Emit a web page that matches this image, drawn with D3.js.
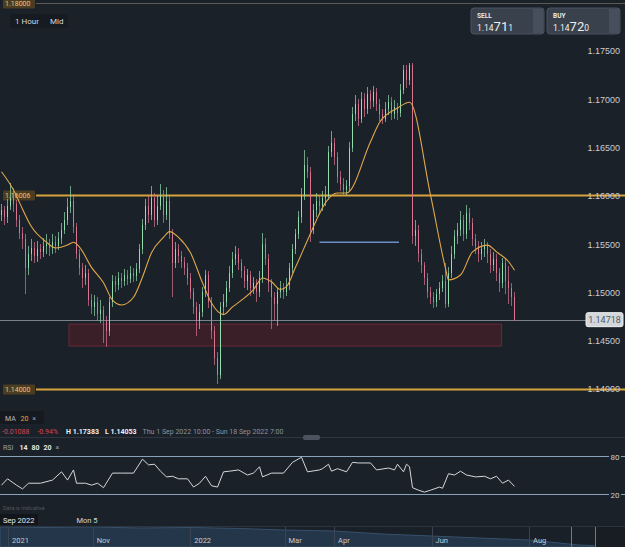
<!DOCTYPE html>
<html>
<head>
<meta charset="utf-8">
<script src="https://cdn.jsdelivr.net/npm/d3@7"></script>
<style>
  body { margin: 0; background: #1b2129; }
  svg { display: block; font-family: Roboto, "Liberation Sans", Arial, sans-serif; }
</style>
</head>
<body>
<div id="chart"></div>
<script>
// hourly candles, Thu 1 Sep 2022 10:00 - Sun 18 Sep 2022 7:00
var firstOpen = 1.15806;
var closes = [
  1.1585, 1.1578, 1.1590, 1.1598, 1.1592, 1.1575, 1.1562, 1.1555, 1.1525, 1.1540,
  1.1546, 1.1538, 1.1545, 1.1542, 1.1548, 1.1550, 1.1546, 1.1552, 1.1548, 1.1556,
  1.1565, 1.1575, 1.1588, 1.1595, 1.1568, 1.1540, 1.1525, 1.1515, 1.1520, 1.1492,
  1.1485, 1.1490, 1.1478, 1.1482, 1.1470, 1.1460, 1.1490, 1.1512, 1.1508, 1.1515,
  1.1512, 1.1518, 1.1514, 1.1520, 1.1517, 1.1524, 1.1545, 1.1570, 1.1590, 1.1580,
  1.1598, 1.1575, 1.1590, 1.1600, 1.1580, 1.1595, 1.1560, 1.1530, 1.1545, 1.1538,
  1.1532, 1.1525, 1.1515, 1.1500, 1.1485, 1.1470, 1.1480, 1.1500, 1.1518, 1.1490,
  1.1460, 1.1432, 1.1415, 1.1485, 1.1490, 1.1505, 1.1520, 1.1535, 1.1540, 1.1530,
  1.1522, 1.1512, 1.1518, 1.1505, 1.1510, 1.1500, 1.1515, 1.1550, 1.1535, 1.1510,
  1.1495, 1.1488, 1.1500, 1.1505, 1.1500, 1.1508, 1.1525, 1.1545, 1.1560, 1.1578,
  1.1600, 1.1632, 1.1625, 1.1565, 1.1585, 1.1595, 1.1590, 1.1598, 1.1600, 1.1645,
  1.1655, 1.1640, 1.1620, 1.1612, 1.1606, 1.1610, 1.1650, 1.1685, 1.1695, 1.1680,
  1.1700, 1.1690, 1.1705, 1.1698, 1.1708, 1.1695, 1.1685, 1.1680, 1.1690, 1.1697,
  1.1685, 1.1692, 1.1686, 1.1710, 1.1730, 1.1720, 1.1735, 1.1558, 1.1565, 1.1540,
  1.1528, 1.1515, 1.1500, 1.1495, 1.1490, 1.1498, 1.1505, 1.1512, 1.1488, 1.1520,
  1.1540, 1.1558, 1.1565, 1.1575, 1.1560, 1.1582, 1.1572, 1.1555, 1.1548, 1.1540,
  1.1545, 1.1548, 1.1540, 1.1528, 1.1535, 1.1520, 1.1510, 1.1530, 1.1512, 1.1505,
  1.1495, 1.14718
];
var highs = [
  1.1592, 1.1590, 1.1597, 1.1613, 1.1608, 1.1596, 1.1580, 1.1568, 1.1560, 1.1548,
  1.1555, 1.1552, 1.1553, 1.1550, 1.1556, 1.1560, 1.1555, 1.1561, 1.1558, 1.1563,
  1.1572, 1.1583, 1.1598, 1.1610, 1.1602, 1.1572, 1.1545, 1.1530, 1.1528, 1.1524,
  1.1498, 1.1497, 1.1495, 1.1492, 1.1486, 1.1476, 1.1495, 1.1518, 1.1517, 1.1521,
  1.1520, 1.1524, 1.1523, 1.1527, 1.1525, 1.1530, 1.1550, 1.1576, 1.1597, 1.1600,
  1.1610, 1.1603, 1.1600, 1.1612, 1.1606, 1.1609, 1.1600, 1.1566, 1.1552, 1.1550,
  1.1543, 1.1537, 1.1530, 1.1520, 1.1505, 1.1490, 1.1488, 1.1506, 1.1523, 1.1522,
  1.1495, 1.1465, 1.1438, 1.1490, 1.1498, 1.1512, 1.1527, 1.1542, 1.1548, 1.1546,
  1.1535, 1.1527, 1.1524, 1.1522, 1.1516, 1.1514, 1.1522, 1.1562, 1.1556, 1.1540,
  1.1514, 1.1500, 1.1505, 1.1512, 1.1510, 1.1515, 1.1530, 1.1550, 1.1566, 1.1584,
  1.1608, 1.1647, 1.1640, 1.1630, 1.1592, 1.1603, 1.1600, 1.1605, 1.1610, 1.1652,
  1.1667, 1.1660, 1.1645, 1.1626, 1.1618, 1.1616, 1.1656, 1.1692, 1.1704, 1.1700,
  1.1708, 1.1706, 1.1713, 1.1710, 1.1714, 1.1712, 1.1700, 1.1690, 1.1697, 1.1704,
  1.1702, 1.1699, 1.1696, 1.1716, 1.1736, 1.1735, 1.1738, 1.1738, 1.1575, 1.1570,
  1.1545, 1.1532, 1.1520, 1.1506, 1.1500, 1.1504, 1.1511, 1.1518, 1.1530, 1.1526,
  1.1548, 1.1565, 1.1572, 1.1584, 1.1580, 1.1591, 1.1587, 1.1577, 1.1560, 1.1553,
  1.1552, 1.1555, 1.1552, 1.1545, 1.1542, 1.1540, 1.1525, 1.1536, 1.1535, 1.1527,
  1.1510, 1.1500
];
var lows = [
  1.1574, 1.1570, 1.1572, 1.1585, 1.1583, 1.1568, 1.1555, 1.1545, 1.1498, 1.1518,
  1.1533, 1.1530, 1.1532, 1.1535, 1.1537, 1.1540, 1.1538, 1.1540, 1.1541, 1.1544,
  1.1550, 1.1560, 1.1570, 1.1582, 1.1562, 1.1535, 1.1518, 1.1505, 1.1508, 1.1486,
  1.1478, 1.1476, 1.1470, 1.1468, 1.1448, 1.1443, 1.1455, 1.1485, 1.1500, 1.1503,
  1.1505, 1.1507, 1.1508, 1.1510, 1.1511, 1.1512, 1.1520, 1.1540, 1.1565, 1.1572,
  1.1575, 1.1568, 1.1570, 1.1585, 1.1572, 1.1575, 1.1555, 1.1495, 1.1525, 1.1530,
  1.1525, 1.1518, 1.1508, 1.1493, 1.1478, 1.1455, 1.1462, 1.1475, 1.1495, 1.1484,
  1.1452, 1.1425, 1.1405, 1.1410, 1.1478, 1.1485, 1.1500, 1.1515, 1.1528, 1.1523,
  1.1515, 1.1505, 1.1503, 1.1496, 1.1498, 1.1490, 1.1495, 1.1510, 1.1528, 1.1500,
  1.1462, 1.1470, 1.1465, 1.1494, 1.1493, 1.1496, 1.1503, 1.1520, 1.1540, 1.1555,
  1.1572, 1.1596, 1.1618, 1.1552, 1.1560, 1.1578, 1.1580, 1.1584, 1.1590, 1.1596,
  1.1640, 1.1632, 1.1613, 1.1605, 1.1600, 1.1601, 1.1605, 1.1645, 1.1678, 1.1672,
  1.1675, 1.1682, 1.1685, 1.1690, 1.1692, 1.1688, 1.1678, 1.1674, 1.1676, 1.1684,
  1.1679, 1.1680, 1.1679, 1.1682, 1.1705, 1.1712, 1.1715, 1.1550, 1.1548, 1.1532,
  1.1520, 1.1508, 1.1494, 1.1488, 1.1484, 1.1485, 1.1492, 1.1500, 1.1484, 1.1485,
  1.1515, 1.1535, 1.1550, 1.1558, 1.1553, 1.1555, 1.1565, 1.1548, 1.1540, 1.1532,
  1.1534, 1.1537, 1.1530, 1.1520, 1.1522, 1.1512, 1.1500, 1.1505, 1.1498, 1.1488,
  1.1486, 1.1470
];

// MA 20 as drawn (candle index, value)
var maIdx = [0, 4, 6, 10, 15, 18, 22, 24, 26, 30, 34, 37, 40, 44, 47, 50, 54, 56, 59, 63,
  67, 70, 74, 77, 80, 84, 87, 90, 93, 95, 98, 102, 105, 108, 112, 115, 123, 126, 132, 136,
  143, 148, 149, 153, 157, 162, 165, 169, 171];
var maVal = [1.1625, 1.1606, 1.1593, 1.1568, 1.1552, 1.1546, 1.1549, 1.1552, 1.1547, 1.1526,
  1.1510, 1.1492, 1.1487, 1.1495, 1.1516, 1.1541, 1.1557, 1.1563, 1.1557, 1.1541,
  1.1510, 1.1489, 1.1477, 1.1485, 1.1492, 1.1503, 1.1515, 1.1511, 1.1503, 1.1506,
  1.1526, 1.1554, 1.1575, 1.1593, 1.1603, 1.1603, 1.1656, 1.1676, 1.1691, 1.1697,
  1.1601, 1.1525, 1.1513, 1.1518, 1.1542, 1.1549, 1.1542, 1.1532, 1.1523];

// RSI 14 (candle index, value)
var rsiIdx = [0, 2, 5, 7, 9, 13, 17, 20, 22, 24, 25, 28, 30, 32, 34, 37, 40, 44, 47, 49,
  51, 53, 55, 57, 59, 62, 64, 66, 68, 70, 72, 74, 76, 79, 82, 84, 86, 87, 90, 94,
  97, 100, 102, 106, 107, 109, 110, 112, 115, 117, 119, 123, 125, 129, 131, 132, 134, 135, 136, 137,
  139, 141, 143, 146, 147, 149, 151, 153, 155, 158, 161, 163, 165, 167, 169, 171];
var rsiVal = [34, 44, 34, 28, 37, 37, 42, 55, 42, 58, 37, 37, 34, 37, 30, 53, 53, 53, 75, 66,
  67, 56, 47, 48, 44, 44, 31, 37, 48, 33, 31, 55, 56, 58, 50, 53, 63, 47, 53, 53,
  70, 78, 55, 58, 60, 67, 56, 60, 55, 70, 69, 69, 58, 61, 58, 67, 55, 67, 63, 30,
  26, 23, 26, 31, 29, 52, 50, 56, 50, 47, 48, 44, 48, 37, 42, 32];

// horizontal levels and zone
var levels = [1.18, 1.16006, 1.14];
var levelLabels = ["1.18000", "1.16006", "1.14000"];
var priceTicks = [1.14, 1.145, 1.15, 1.155, 1.16, 1.165, 1.17, 1.175];
var lastPrice = 1.14718;
var zoneTop = 1.14672, zoneBottom = 1.14445, zoneFrom = 22.5, zoneTo = 166.7;
var blueLevel = 1.1552, blueFrom = 106, blueTo = 132.5;

// navigator (full history)
var navDates = ["2021-09-04", "2021-10-01", "2021-11-01", "2021-12-01", "2022-01-01", "2022-02-01",
  "2022-03-01", "2022-04-01", "2022-05-01", "2022-06-01", "2022-07-01", "2022-08-01",
  "2022-08-20", "2022-09-01", "2022-09-18"];
var navValues = [1.19, 1.185, 1.19, 1.18, 1.185, 1.175, 1.16, 1.15, 1.12, 1.10, 1.08, 1.06, 1.03, 1.01, 1.00];
var navTickDates = ["2021-11-01", "2022-01-01", "2022-03-01", "2022-04-01", "2022-06-01", "2022-08-01"];
var navTickLabels = ["Nov", "2022", "Mar", "Apr", "Jun", "Aug"];
var navWindow = ["2022-08-27", "2022-09-11"];

var W = 625, H = 547;
var bg = "#1b2129", up = "#93dcad", down = "#da7590", gold = "#d7a33c";

var svg = d3.select("#chart").append("svg").attr("width", W).attr("height", H);
svg.append("rect").attr("width", W).attr("height", H).attr("fill", bg);

var n = closes.length;
var x = d3.scaleBand().domain(d3.range(n)).range([0, n * 3]).paddingInner(0.34).paddingOuter(0.17);
var xi = function (i) { return x.step() * i + x.step() / 2; };
var y = d3.scaleLinear().domain([1.14, 1.175]).range([389, 51]);

var candles = closes.map(function (c, i) {
  return { i: i, o: i === 0 ? firstOpen : closes[i - 1], c: c, h: highs[i], l: lows[i] };
});

// zone
svg.append("rect")
  .attr("x", xi(zoneFrom)).attr("width", xi(zoneTo) - xi(zoneFrom))
  .attr("y", y(zoneTop)).attr("height", y(zoneBottom) - y(zoneTop))
  .attr("fill", "#3a1f29").attr("stroke", "#6a2837").attr("stroke-width", 1);

// right price axis
var axis = svg.append("g").attr("transform", "translate(620,0)")
  .call(d3.axisLeft(y).tickValues(priceTicks).tickFormat(d3.format(".5f")).tickSize(0).tickPadding(0));
axis.select(".domain").remove();
axis.selectAll("text").attr("fill", "#c9cdd2").attr("font-size", 9);

// level lines
levels.forEach(function (v, k) {
  var yy = Math.round(y(v)) + 0.5;
  svg.append("line").attr("x1", 36).attr("x2", W).attr("y1", yy).attr("y2", yy)
    .attr("stroke", k === 0 ? "#5d5a52" : gold).attr("stroke-width", k === 0 ? 1 : 1.8);
  svg.append("rect").attr("x", 3).attr("y", yy - 5).attr("width", 32).attr("height", 10)
    .attr("fill", "#4a3d22").attr("rx", 1);
  svg.append("text").attr("x", 5).attr("y", yy + 2.5).text(levelLabels[k])
    .attr("fill", "#e6c47c").attr("font-size", 7);
});
axis.raise();

// blue level
svg.append("line").attr("x1", xi(blueFrom)).attr("x2", xi(blueTo))
  .attr("y1", y(blueLevel)).attr("y2", y(blueLevel))
  .attr("stroke", "#6a8fc4").attr("stroke-width", 1.6);

// last price line
svg.append("line").attr("x1", 0).attr("x2", 586).attr("y1", Math.round(y(lastPrice)) + 0.5)
  .attr("y2", Math.round(y(lastPrice)) + 0.5).attr("stroke", "#7c828a").attr("stroke-width", 1);
svg.append("rect").attr("x", 586).attr("y", y(lastPrice) - 7).attr("width", 37).attr("height", 14)
  .attr("rx", 2).attr("fill", "#d3d7dc").attr("stroke", "#eef0f2");
svg.append("text").attr("x", 604.5).attr("y", y(lastPrice) + 3).attr("text-anchor", "middle")
  .attr("font-size", 9).attr("fill", "#505761").text(d3.format(".5f")(lastPrice));

// candles
var cg = svg.append("g").attr("shape-rendering", "crispEdges");
cg.selectAll("line").data(candles).enter().append("line")
  .attr("x1", function (d) { return Math.floor(xi(d.i)) + 0.5; })
  .attr("x2", function (d) { return Math.floor(xi(d.i)) + 0.5; })
  .attr("y1", function (d) { return y(d.h); })
  .attr("y2", function (d) { return y(d.l); })
  .attr("stroke", function (d) { return d.c >= d.o ? up : down; })
  .attr("stroke-opacity", 0.7);
cg.selectAll("rect").data(candles).enter().append("rect")
  .attr("x", function (d) { return x(d.i); })
  .attr("width", x.bandwidth())
  .attr("y", function (d) { return y(Math.max(d.o, d.c)); })
  .attr("height", function (d) { return Math.max(1, Math.abs(y(d.o) - y(d.c))); })
  .attr("fill", function (d) { return d.c >= d.o ? up : down; });

// MA line
svg.append("path").datum(maIdx)
  .attr("fill", "none").attr("stroke", "#e2a84a").attr("stroke-width", 1.1)
  .attr("d", d3.line().x(function (d) { return xi(d); })
    .y(function (d, k) { return y(maVal[k]); }).curve(d3.curveMonotoneX));

// top-left controls
svg.append("rect").attr("x", 10).attr("y", 14).attr("width", 58).attr("height", 14).attr("rx", 3).attr("fill", "#161b22");
svg.append("text").attr("x", 15).attr("y", 24).attr("font-size", 8).attr("fill", "#d5d8dc").text("1 Hour");
svg.append("text").attr("x", 50).attr("y", 24).attr("font-size", 8).attr("fill", "#d5d8dc").text("Mid");

// sell / buy boxes
[["SELL", 471, ["1.14", "71", "1"]], ["BUY", 547, ["1.14", "72", "0"]]].forEach(function (b) {
  svg.append("rect").attr("x", b[1]).attr("y", 8).attr("width", 73).attr("height", 26).attr("rx", 3).attr("fill", "#39414d").attr("stroke", "#4a5361");
  svg.append("rect").attr("x", b[1] + 62).attr("y", 9).attr("width", 10).attr("height", 24).attr("fill", "#464f5c");
  svg.append("text").attr("x", b[1] + 6).attr("y", 18).attr("font-size", 6.5).attr("font-weight", "bold").attr("fill", "#e8eaec").text(b[0]);
  var t = svg.append("text").attr("x", b[1] + 6).attr("y", 31).attr("fill", "#eef0f2");
  t.append("tspan").attr("font-size", 8.5).text(b[2][0]);
  t.append("tspan").attr("font-size", 13).text(b[2][1]);
  t.append("tspan").attr("font-size", 8.5).text(b[2][2]);
});

// indicator legend area
svg.append("rect").attr("x", 0).attr("y", 411).attr("width", 44).attr("height", 13).attr("fill", "#151a21");
var ma = svg.append("text").attr("x", 5).attr("y", 420.5).attr("font-size", 7);
ma.append("tspan").attr("fill", "#b6bcc4").text("MA ");
ma.append("tspan").attr("fill", "#e3a23c").attr("dx", 3).text("20");
ma.append("tspan").attr("fill", "#9aa1aa").attr("dx", 4).text("\u00d7");

var info = svg.append("text").attr("x", 2).attr("y", 433.5).attr("font-size", 7);
info.append("tspan").attr("fill", "#d2475a").text("-0.01088");
info.append("tspan").attr("fill", "#d2475a").attr("dx", 8).text("-0.94%");
info.append("tspan").attr("fill", "#eef0f2").attr("font-weight", "bold").attr("dx", 8).text("H 1.17383");
info.append("tspan").attr("fill", "#eef0f2").attr("font-weight", "bold").attr("dx", 6).text("L 1.14053");
info.append("tspan").attr("fill", "#8c939c").attr("dx", 6).text("Thu 1 Sep 2022 10:00 - Sun 18 Sep 2022 7:00");

svg.append("line").attr("x1", 0).attr("x2", W).attr("y1", 437.5).attr("y2", 437.5).attr("stroke", "#2f3641");
svg.append("rect").attr("x", 303).attr("y", 435).attr("width", 17).attr("height", 5).attr("rx", 2).attr("fill", "#4b535e");

var rl = svg.append("text").attr("x", 3).attr("y", 449.5).attr("font-size", 7);
rl.append("tspan").attr("fill", "#9aa1aa").text("RSI");
rl.append("tspan").attr("fill", "#e4e6e8").attr("font-weight", "bold").attr("dx", 6).text("14");
rl.append("tspan").attr("fill", "#e4e6e8").attr("font-weight", "bold").attr("dx", 4).text("80");
rl.append("tspan").attr("fill", "#e4e6e8").attr("font-weight", "bold").attr("dx", 4).text("20");
rl.append("tspan").attr("fill", "#9aa1aa").attr("dx", 4).text("\u00d7");

// RSI panel
var yr = d3.scaleLinear().domain([20, 80]).range([494, 456]);
[80, 20].forEach(function (v) {
  var yy = Math.round(yr(v)) + 0.5;
  svg.append("line").attr("x1", 0).attr("x2", W).attr("y1", yy).attr("y2", yy).attr("stroke", "#8aa2ba").attr("stroke-width", 1);
  svg.append("rect").attr("x", 609).attr("y", yy - 4).attr("width", 12).attr("height", 8).attr("fill", bg);
  svg.append("text").attr("x", 615).attr("y", yy + 3).attr("text-anchor", "middle").attr("font-size", 8).attr("fill", "#c9cdd2").text(v);
});
svg.append("path").datum(rsiIdx)
  .attr("fill", "none").attr("stroke", "#d4d7db").attr("stroke-width", 1)
  .attr("d", d3.line().x(function (d) { return xi(d); }).y(function (d, k) { return yr(rsiVal[k]); }));

svg.append("text").attr("x", 3).attr("y", 510).attr("font-size", 5.5).attr("fill", "#4f5762").text("Data is indicative");

// time axis row
svg.append("rect").attr("x", 0).attr("y", 514).attr("width", 38).attr("height", 11).attr("fill", "#12161c");
svg.append("text").attr("x", 3).attr("y", 522.5).attr("font-size", 7.5).attr("fill", "#e4e6e8").text("Sep 2022");
svg.append("text").attr("x", xi(25)).attr("y", 522.5).attr("font-size", 7.5).attr("fill", "#d5d8dc").text("Mon 5");

// navigator
var parse = d3.timeParse("%Y-%m-%d");
var nx = d3.scaleTime().domain([parse("2021-09-04"), parse("2022-09-30")]).range([0, W]);
var ny = d3.scaleLinear().domain([0.99, 1.20]).range([547, 526]);
svg.append("rect").attr("x", 0).attr("y", 526).attr("width", W).attr("height", 21).attr("fill", "#1a2028");
svg.append("path").datum(navDates)
  .attr("fill", "#243649").attr("stroke", "#36506b").attr("stroke-width", 1)
  .attr("d", d3.area().x(function (d) { return nx(parse(d)); })
    .y0(547).y1(function (d, k) { return ny(navValues[k]); }));
svg.append("line").attr("x1", 0).attr("x2", W).attr("y1", 526.5).attr("y2", 526.5).attr("stroke", "#2c343f");
svg.append("rect").attr("x", nx(parse(navWindow[1]))).attr("y", 527).attr("width", W - nx(parse(navWindow[1]))).attr("height", 20).attr("fill", "#181d24");
var nt = svg.append("g");
nt.selectAll("line").data(navTickDates).enter().append("line")
  .attr("x1", function (d) { return Math.round(nx(parse(d))) + 0.5; })
  .attr("x2", function (d) { return Math.round(nx(parse(d))) + 0.5; })
  .attr("y1", 527).attr("y2", 547).attr("stroke", "#3a4452");
nt.selectAll("text").data(navTickDates).enter().append("text")
  .attr("x", function (d) { return nx(parse(d)) + 4; }).attr("y", 543)
  .attr("font-size", 7.5).attr("fill", "#c8ccd2")
  .text(function (d, k) { return navTickLabels[k]; });
svg.append("line").attr("x1", 8.5).attr("x2", 8.5).attr("y1", 527).attr("y2", 547).attr("stroke", "#3a4452");
svg.append("text").attr("x", 12).attr("y", 543).attr("font-size", 7.5).attr("fill", "#c8ccd2").text("2021");
navWindow.forEach(function (d) {
  var xx = Math.round(nx(parse(d))) + 0.5;
  svg.append("line").attr("x1", xx).attr("x2", xx).attr("y1", 527).attr("y2", 547).attr("stroke", "#6d7b8a");
});
</script>
</body>
</html>
